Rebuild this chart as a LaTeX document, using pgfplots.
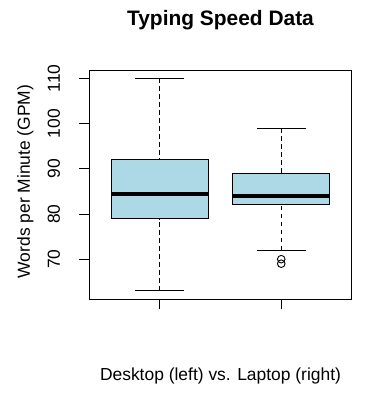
\documentclass[border=0pt]{standalone}
\usepackage{pgfplots}
\pgfplotsset{compat=1.18}
\usepgfplotslibrary{statistics}
\usepackage{fontspec}
\setmainfont{Liberation Sans}
\definecolor{lblue}{RGB}{173,216,230}
\begin{document}
\begin{tikzpicture}
\path[use as bounding box] (-89.3bp,-93.7bp) rectangle (294.7bp,299.3bp);
\begin{axis}[
  at={(0,0)}, anchor=south west,
  scale only axis, width=262.4bp, height=229.3bp,
  xmin=0.42, xmax=2.58, ymin=61.12, ymax=111.88,
  axis line style={line width=0.9bp, black},
  xtick={1,2}, xticklabels={},
  ytick={70,80,90,100,110},
  xtick pos=bottom, ytick pos=left,
  tick align=outside,
  major tick length=10bp,
  every tick/.style={black, line width=0.9bp},
  tick label style={font=\fontsize{17.5}{21}\selectfont},
  /pgf/number format/assume math mode=true,
  yticklabel style={rotate=90, anchor=south, inner sep=0pt},
  yticklabel shift=19bp,
  title={Typing Speed Data},
  title style={font=\fontsize{21}{25}\selectfont\bfseries, at={(axis description cs:0.5,1.1688)}, anchor=base, inner sep=0pt},
  xlabel={Desktop (left) vs. Laptop (right)},
  xlabel style={font=\fontsize{17.5}{21}\selectfont, at={(axis description cs:0.5,-0.355)}, anchor=base, inner sep=0pt},
  ylabel={Words per Minute (GPM)},
  ylabel style={font=\fontsize{17.5}{21}\selectfont, at={(axis description cs:-0.226,0.514)}, anchor=base, inner sep=0pt},
  boxplot/draw direction=y,
  boxplot/every box/.style={draw=black, fill=lblue, line width=1bp},
  boxplot/every median/.style={draw=black, line width=4bp},
  boxplot/draw/lower whisker/.code={%
    \draw[black, line width=1bp, dash pattern=on 4.5bp off 3.5bp] (boxplot cs:\pgfplotsboxplotvalue{lower whisker}) -- (boxplot cs:\pgfplotsboxplotvalue{lower quartile});
    \draw[black, line width=1bp, solid] (boxplot whisker cs:\pgfplotsboxplotvalue{lower whisker},0) -- (boxplot whisker cs:\pgfplotsboxplotvalue{lower whisker},1);
  },
  boxplot/draw/upper whisker/.code={%
    \draw[black, line width=1bp, dash pattern=on 4.5bp off 3.5bp] (boxplot cs:\pgfplotsboxplotvalue{upper whisker}) -- (boxplot cs:\pgfplotsboxplotvalue{upper quartile});
    \draw[black, line width=1bp, solid] (boxplot whisker cs:\pgfplotsboxplotvalue{upper whisker},0) -- (boxplot whisker cs:\pgfplotsboxplotvalue{upper whisker},1);
  },
]
\addplot[black, boxplot prepared={lower whisker=63, lower quartile=79, median=84.5, upper quartile=92, upper whisker=110, draw position=1, box extend=0.8, whisker extend=0.4}] coordinates {};
\addplot[black, boxplot prepared={lower whisker=72, lower quartile=82, median=84, upper quartile=89, upper whisker=99, draw position=2, box extend=0.8, whisker extend=0.4}] coordinates {};
\addplot[only marks, mark=o, mark size=3.8bp, mark options={line width=0.9bp, black}] coordinates {(2,70) (2,69)};
\end{axis}
\end{tikzpicture}
\end{document}
